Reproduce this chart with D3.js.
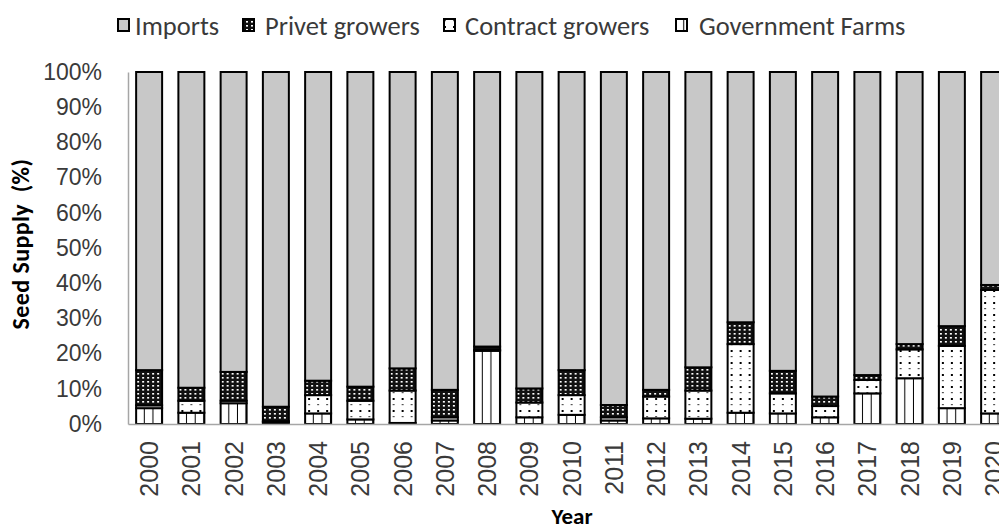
<!DOCTYPE html>
<html>
<head>
<meta charset="utf-8">
<script src="https://cdn.jsdelivr.net/npm/d3@7"></script>
<style>
  html, body { margin: 0; padding: 0; background: #fff; }
  svg { display: block; font-family: Carlito, Lato, "Noto Sans", sans-serif; }
</style>
</head>
<body>
<svg id="chart" width="999" height="530"></svg>
<script>
// Seed supply shares by source, percent of total per year
const years = ["2000","2001","2002","2003","2004","2005","2006","2007","2008","2009","2010",
               "2011","2012","2013","2014","2015","2016","2017","2018","2019","2020"];
const governmentFarms = [4.5, 3.2, 5.9, 0.5, 3.0, 1.3, 0.3, 1.0, 20.8, 1.9, 2.6,
                         1.0, 1.6, 1.5, 3.2, 3.0, 1.9, 8.7, 13.0, 4.5, 3.0];
const contractGrowers = [0.8, 3.4, 0.7, 0.3, 5.2, 5.3, 9.2, 0.9, 0.3, 4.2, 5.6,
                         0.9, 6.2, 8.0, 19.5, 5.7, 3.2, 3.8, 8.2, 17.7, 35.1];
const privetGrowers   = [10.0, 3.7, 8.2, 4.1, 4.1, 4.0, 6.3, 7.8, 0.9, 4.0, 7.1,
                         3.5, 1.9, 6.6, 6.2, 6.4, 2.7, 1.4, 1.5, 5.6, 1.4];
const imports         = [84.7, 89.7, 85.2, 95.1, 87.7, 89.4, 84.2, 90.3, 78.0, 89.9, 84.7,
                         94.6, 90.3, 83.9, 71.1, 84.9, 92.2, 86.1, 77.3, 72.2, 60.5];
const yTicks = [0, 10, 20, 30, 40, 50, 60, 70, 80, 90, 100];

// stacking order: bottom to top
const seriesKeys = ["gov", "contract", "privet", "imports"];
const seriesNames = { gov: "Government Farms", contract: "Contract growers", privet: "Privet growers", imports: "Imports" };
const legendOrder = ["imports", "privet", "contract", "gov"];

const rows = years.map((y, i) => ({
  year: y, gov: governmentFarms[i], contract: contractGrowers[i],
  privet: privetGrowers[i], imports: imports[i]
}));

const svg = d3.select("#chart");
const plot = { left: 128, top: 72, bottom: 424 };
const step = 42.25;

const x = d3.scaleBand()
  .domain(years)
  .range([plot.left, plot.left + step * years.length])
  .paddingInner(0.385)
  .paddingOuter(0.1925);
const y = d3.scaleLinear().domain([0, 100]).range([plot.bottom, plot.top]);

// ---- fill patterns ----
const defs = svg.append("defs");
const bw = x.bandwidth();

// vertical bars (government farms)
const pGov = defs.append("pattern").attr("id", "p-gov")
  .attr("patternUnits", "userSpaceOnUse").attr("width", bw / 3).attr("height", 10);
pGov.append("rect").attr("width", bw / 3).attr("height", 10).attr("fill", "#fff");
pGov.append("rect").attr("x", bw / 3 - 1).attr("width", 2).attr("height", 10).attr("fill", "#000");

// sparse dots (contract growers)
const pCon = defs.append("pattern").attr("id", "p-contract")
  .attr("patternUnits", "userSpaceOnUse").attr("width", 9).attr("height", 12);
pCon.append("rect").attr("width", 9).attr("height", 12).attr("fill", "#fff");
pCon.append("rect").attr("x", 3).attr("y", 2).attr("width", 2).attr("height", 2).attr("fill", "#000");
pCon.append("rect").attr("x", 3).attr("y", 8).attr("width", 2).attr("height", 1.2).attr("fill", "#555");

// dense grid (privet growers)
const pPri = defs.append("pattern").attr("id", "p-privet")
  .attr("patternUnits", "userSpaceOnUse").attr("width", 5).attr("height", 4);
pPri.append("rect").attr("width", 5).attr("height", 4).attr("fill", "#111");
pPri.append("rect").attr("x", 1).attr("y", 1).attr("width", 2).attr("height", 1.6).attr("fill", "#fff");

const fills = { gov: "url(#p-gov)", contract: "url(#p-contract)", privet: "url(#p-privet)", imports: "#c8c8c8" };

// ---- axes ----
const axisColor = "#a6a6a6";
const tickColor = "#3a3a3a";

const yAxis = svg.append("g")
  .attr("transform", `translate(${plot.left},0)`)
  .call(d3.axisLeft(y).tickValues(yTicks).tickFormat(d => d + "%").tickSize(0).tickPadding(26));
yAxis.select(".domain").attr("stroke", axisColor).attr("stroke-width", 1.5);
yAxis.selectAll("text").attr("font-size", 23).attr("fill", tickColor).attr("font-family", null);

// ---- stacked bars ----
const stacked = d3.stack().keys(seriesKeys)(rows);

const barGroups = svg.append("g").selectAll("g.bar")
  .data(rows.map((r, i) => ({ year: r.year, segs: stacked.map(s => ({ key: s.key, y0: s[i][0], y1: s[i][1] })) })))
  .join("g")
  .attr("class", "bar")
  .attr("transform", d => `translate(${x(d.year)},0)`);

barGroups.selectAll("rect")
  .data(d => d.segs.filter(s => s.y1 > s.y0))
  .join("rect")
  .attr("x", 0)
  .attr("y", s => y(s.y1))
  .attr("width", bw)
  .attr("height", s => y(s.y0) - y(s.y1))
  .attr("fill", s => fills[s.key])
  .attr("stroke", "#000")
  .attr("stroke-width", 2);

// baseline and year labels
const xAxis = svg.append("g")
  .attr("transform", `translate(0,${plot.bottom})`)
  .call(d3.axisBottom(x).tickSize(0).tickPadding(0));
xAxis.select(".domain").attr("stroke", axisColor).attr("stroke-width", 1.5);
xAxis.selectAll("text")
  .attr("font-size", 25).attr("fill", tickColor).attr("font-family", null)
  .attr("transform", "rotate(-90)")
  .attr("text-anchor", "end")
  .attr("dy", "0.36em")
  .attr("x", -17)
  .attr("y", 0);

// ---- axis titles ----
svg.append("text")
  .attr("transform", `translate(29,${(plot.top + plot.bottom) / 2 - 4}) rotate(-90)`)
  .attr("text-anchor", "middle")
  .attr("font-size", 24).attr("font-weight", "bold").attr("fill", "#000")
  .attr("letter-spacing", 0.4)
  .style("white-space", "pre")
  .text("Seed Supply  (%)");

svg.append("text")
  .attr("x", 572).attr("y", 524)
  .attr("text-anchor", "middle")
  .attr("font-size", 23).attr("font-weight", "bold").attr("fill", "#000")
  .text("Year");

// ---- legend ----
const swatchX = [118, 243, 444, 676];
const labelX = [135, 265, 465, 699];
const legend = svg.append("g");
legendOrder.forEach((k, i) => {
  legend.append("rect").attr("x", swatchX[i]).attr("y", 19).attr("width", 11).attr("height", 12)
    .attr("fill", fills[k]).attr("stroke", "#000").attr("stroke-width", 2);
  legend.append("text").attr("x", labelX[i]).attr("y", 25).attr("dy", "0.36em")
    .attr("font-size", 26.5).attr("fill", tickColor)
    .text(seriesNames[k]);
});
</script>
</body>
</html>
